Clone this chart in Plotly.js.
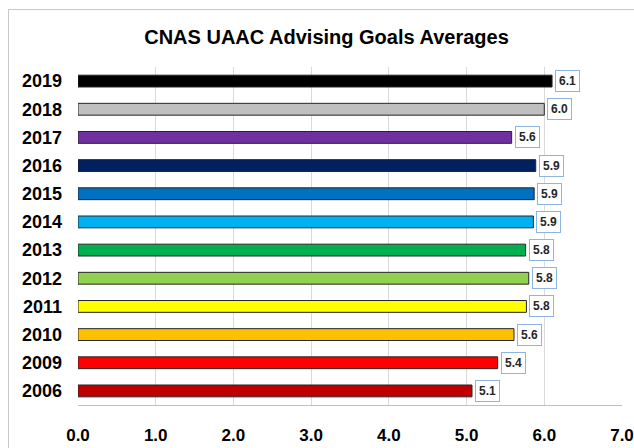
<!DOCTYPE html>
<html>
<head>
<meta charset="utf-8">
<script src="https://cdn.plot.ly/plotly-3.0.1.min.js"></script>
<style>
  html, body { margin: 0; padding: 0; background: #fff; }
  #wrap { position: relative; width: 634px; height: 448px; overflow: hidden; }
  #frame { position: absolute; left: 8px; top: 9px; width: 640px; height: 460px; border: 1px solid #c8c8c8; box-sizing: border-box; pointer-events: none; }
  #chart { position: absolute; left: 0; top: 0; width: 634px; height: 448px; }
</style>
</head>
<body>
<div id="wrap">
  <div id="chart"></div>
  <div id="frame"></div>
</div>
<script>
// Data (bottom to top)
const years = ["2006", "2009", "2010", "2011", "2012", "2013", "2014", "2015", "2016", "2017", "2018", "2019"];
const averages = [5.07, 5.40, 5.61, 5.77, 5.80, 5.76, 5.86, 5.87, 5.89, 5.58, 6.00, 6.10];
const barColors = ["#C00000", "#FF0000", "#FFC000", "#FFFF00", "#92D050", "#00B050", "#00B0F0", "#0070C0", "#002060", "#7030A0", "#BFBFBF", "#000000"];
const xTicks = [0, 1, 2, 3, 4, 5, 6, 7];
const xTickLabels = ["0.0", "1.0", "2.0", "3.0", "4.0", "5.0", "6.0", "7.0"];

const trace = {
  type: "bar",
  orientation: "h",
  x: averages,
  y: years,
  width: 0.42,
  marker: { color: barColors, line: { color: "#262626", width: 1 } },
  hoverinfo: "x+y"
};

// Category axis: annotation y given as category index
const annotations = years.map((yr, i) => ({
  x: averages[i],
  y: i,
  xref: "x",
  yref: "y",
  text: averages[i].toFixed(1),
  showarrow: false,
  xanchor: "left",
  yanchor: "middle",
  xshift: 3,
  bgcolor: "#ffffff",
  bordercolor: "#8EB4E3",
  borderwidth: 1,
  borderpad: 3,
  font: { family: "Liberation Sans, Arial, sans-serif", size: 12, color: "#262626", weight: "bold" }
}));

const layout = {
  width: 634,
  height: 448,
  margin: { l: 78, r: 12, t: 67, b: 43 },
  paper_bgcolor: "rgba(0,0,0,0)",
  plot_bgcolor: "#ffffff",
  showlegend: false,
  title: {
    text: "CNAS UAAC Advising Goals Averages",
    font: { family: "Liberation Sans, Arial, sans-serif", size: 20, color: "#000000", weight: "bold" },
    x: 0.515,
    xanchor: "center",
    y: 1 - 37 / 448,
    yref: "container",
    yanchor: "middle"
  },
  xaxis: {
    range: [0, 7],
    tickvals: xTicks,
    ticktext: xTickLabels,
    showgrid: true,
    gridcolor: "#D9D9D9",
    gridwidth: 1,
    zeroline: false,
    showline: true,
    linecolor: "#BFBFBF",
    linewidth: 1,
    ticks: "",
    ticklabelstandoff: 15,
    tickfont: { family: "Liberation Sans, Arial, sans-serif", size: 17, color: "#000000", weight: "bold" },
    fixedrange: true
  },
  yaxis: {
    type: "category",
    categoryorder: "array",
    categoryarray: years,
    range: [-0.5, years.length - 0.5],
    showgrid: false,
    zeroline: false,
    showline: false,
    ticks: "",
    ticklabelstandoff: 15,
    tickfont: { family: "Liberation Sans, Arial, sans-serif", size: 18, color: "#000000", weight: "bold" },
    fixedrange: true
  },
  annotations: annotations
};

Plotly.newPlot("chart", [trace], layout, { displayModeBar: false, staticPlot: true });
</script>
</body>
</html>
